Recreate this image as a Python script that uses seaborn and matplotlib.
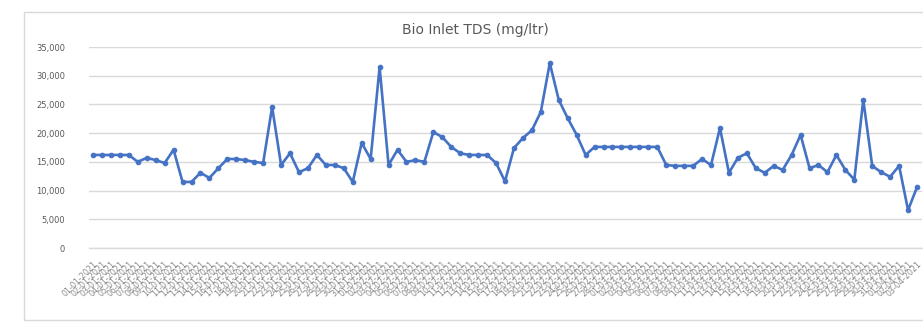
import matplotlib
matplotlib.use("Agg")
import matplotlib.pyplot as plt
from matplotlib.patches import Rectangle
import seaborn as sns
import pandas as pd
import numpy as np

title = "Bio Inlet TDS (mg/ltr)"

tds_values = [
    16200, 16200, 16200, 16200, 16200, 15000, 15700, 15300, 14800, 17100,
    11500, 11500, 13100, 12200, 13900, 15500, 15500, 15300, 15000, 14800,
    24550, 14450, 16500, 13200, 13900, 16200, 14450, 14450, 13900, 11500,
    18300, 15500, 31500, 14450, 17100, 15000, 15300, 15000, 20200, 19300,
    17600, 16500, 16200, 16200, 16200, 14800, 11600, 17400, 19150, 20500,
    23700, 32200, 25800, 22600, 19700, 16200, 17600, 17600, 17600, 17600,
    17600, 17600, 17600, 17600, 14450, 14300, 14300, 14300, 15500, 14450,
    20900, 13100, 15700, 16500, 13900, 13100, 14300, 13600, 16200, 19700,
    13900, 14450, 13200, 16200, 13600, 11900, 25800, 14300, 13200, 12400,
    14300, 6600, 10600,
]

date_labels = [d.strftime("%d-%m-%Y") for d in pd.date_range("2021-01-01", periods=len(tds_values), freq="D")]

y_ticks = [0, 5000, 10000, 15000, 20000, 25000, 30000, 35000]
y_tick_labels = ["0", "5,000", "10,000", "15,000", "20,000", "25,000", "30,000", "35,000"]

df = pd.DataFrame({"idx": np.arange(len(tds_values)), "tds": tds_values})

sns.set_theme(style="white")
plt.rcParams["font.family"] = ["DejaVu Sans"]

W, H = 923, 324
fig = plt.figure(figsize=(W / 100, H / 100), dpi=100)
fig.patch.set_facecolor("white")

# chart border
fig.patches.append(Rectangle((24 / W, 4 / H), 1.2, (H - 12 - 4) / H, transform=fig.transFigure,
                             fill=False, edgecolor="#d9d9d9", linewidth=1.0))

ax = fig.add_axes([88.5 / W, (H - 248) / H, 833 / W, (248 - 47) / H])
ax.set_facecolor("none")

sns.lineplot(data=df, x="idx", y="tds", ax=ax, color="#4472C4", linewidth=1.9,
             marker="o", markersize=3.3, markeredgecolor="#4472C4", markerfacecolor="#4472C4")

ax.set_xlim(-0.5, len(tds_values) - 0.5)
ax.set_ylim(0, 35000)
ax.set_yticks(y_ticks)
ax.set_yticklabels(y_tick_labels, fontsize=6, color="#595959")
ax.set_xticks(np.arange(len(tds_values)))
ax.set_xticklabels(date_labels, rotation=45, ha="right", rotation_mode="anchor",
                   fontsize=5.8, color="#8a8a8a")
ax.tick_params(axis="x", length=0, pad=8)
ax.tick_params(axis="y", length=0, pad=17)

ax.grid(axis="y", color="#d9d9d9", linewidth=1.0)
ax.set_axisbelow(True)
for s in ["top", "right", "left"]:
    ax.spines[s].set_visible(False)
ax.spines["bottom"].set_color("#d9d9d9")
ax.spines["bottom"].set_linewidth(1.0)
ax.set_xlabel("")
ax.set_ylabel("")

fig.text(475 / W, 1 - 30 / H, title, ha="center", va="center", fontsize=10, color="#595959")

fig.savefig("out.png", dpi=100)
